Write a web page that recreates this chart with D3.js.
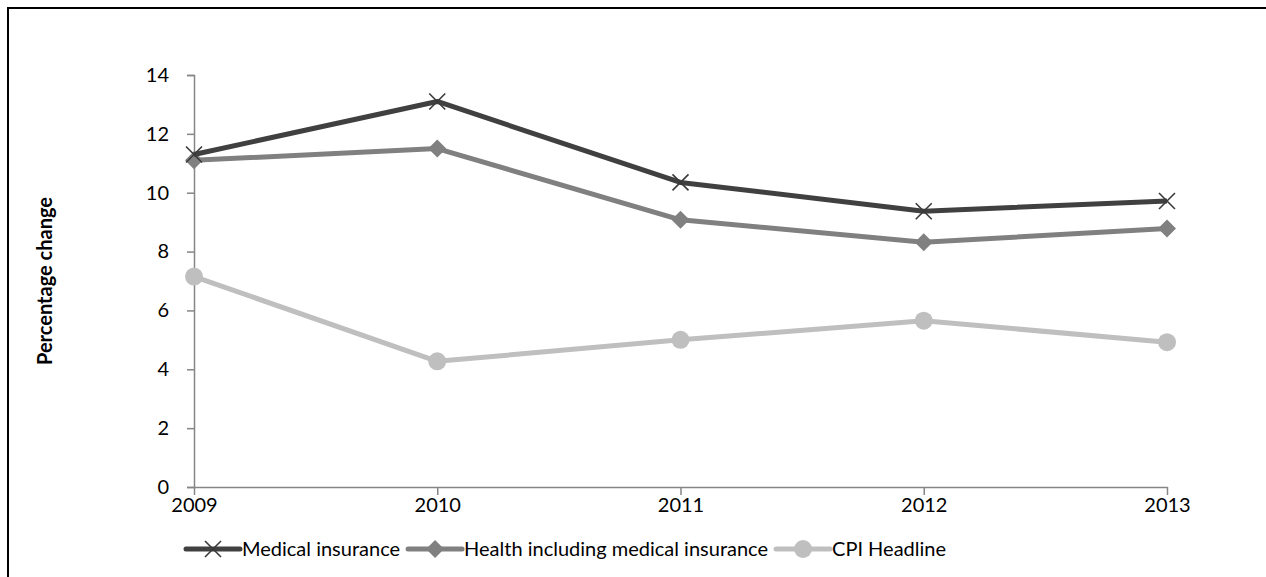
<!DOCTYPE html>
<html>
<head>
<meta charset="utf-8">
<script src="https://cdn.jsdelivr.net/npm/d3@7"></script>
<style>
  html, body { margin: 0; padding: 0; background: #fff; }
  svg { display: block; font-family: Lato, "Open Sans", sans-serif; }
</style>
</head>
<body>
<svg id="chart" width="1266" height="577"></svg>
<script>
// Annual percentage change, 2009–2013
const years = ["2009", "2010", "2011", "2012", "2013"];
const medicalInsurance = [11.3, 13.1, 10.35, 9.37, 9.72];
const healthInclMedical = [11.1, 11.5, 9.08, 8.32, 8.78];
const cpiHeadline = [7.15, 4.27, 5.0, 5.65, 4.92];
const yTicks = [0, 2, 4, 6, 8, 10, 12, 14];
const seriesNames = ["Medical insurance", "Health including medical insurance", "CPI Headline"];

const series = [
  { name: seriesNames[0], values: medicalInsurance, color: "#404040", marker: "cross" },
  { name: seriesNames[1], values: healthInclMedical, color: "#808080", marker: "diamond" },
  { name: seriesNames[2], values: cpiHeadline, color: "#bfbfbf", marker: "circle" }
];

const svg = d3.select("#chart");

// outer frame
svg.append("rect")
  .attr("x", 8).attr("y", 8)
  .attr("width", 1300).attr("height", 620)
  .attr("fill", "none").attr("stroke", "#000").attr("stroke-width", 2);

const plot = { left: 194, right: 1167, top: 75, bottom: 487 };

const x = d3.scalePoint().domain(years).range([plot.left, plot.right]);
const y = d3.scaleLinear().domain([0, 14]).range([plot.bottom, plot.top]);

const fontSize = 20;

// y axis
const yAxis = svg.append("g")
  .attr("transform", `translate(${plot.left},0)`)
  .call(d3.axisLeft(y).tickValues(yTicks).tickSize(7).tickPadding(18).tickFormat(d3.format("d")));
yAxis.select(".domain").attr("stroke", "#868686").attr("stroke-width", 1.5);
yAxis.selectAll(".tick line").attr("stroke", "#868686").attr("stroke-width", 1.5);
yAxis.selectAll(".tick text").attr("font-size", fontSize).attr("fill", "#000")
  .attr("font-family", "Lato, sans-serif");

// x axis
const xAxis = svg.append("g")
  .attr("transform", `translate(0,${plot.bottom})`)
  .call(d3.axisBottom(x).tickSize(8).tickPadding(3).tickSizeOuter(0));
xAxis.select(".domain").attr("stroke", "#868686").attr("stroke-width", 1.5);
xAxis.selectAll(".tick line").attr("stroke", "#868686").attr("stroke-width", 1.5);
xAxis.selectAll(".tick text").attr("font-size", fontSize).attr("fill", "#000")
  .attr("font-family", "Lato, sans-serif");

// y axis title
svg.append("text")
  .attr("transform", `translate(52,${(plot.top + plot.bottom) / 2}) rotate(-90)`)
  .attr("text-anchor", "middle")
  .attr("font-size", 20).attr("font-weight", "bold")
  .text("Percentage change");

function drawMarker(g, type, color, cx, cy) {
  if (type === "cross") {
    const s = 8;
    g.append("path")
      .attr("d", `M${cx - s},${cy - s}L${cx + s},${cy + s}M${cx - s},${cy + s}L${cx + s},${cy - s}`)
      .attr("stroke", "#3a3a3a").attr("stroke-width", 1.6).attr("fill", "none");
  } else if (type === "diamond") {
    const s = 9;
    g.append("path")
      .attr("d", `M${cx},${cy - s}L${cx + s},${cy}L${cx},${cy + s}L${cx - s},${cy}Z`)
      .attr("fill", color);
  } else {
    g.append("circle").attr("cx", cx).attr("cy", cy).attr("r", 9).attr("fill", color);
  }
}

const line = d3.line().x((d, i) => x(years[i])).y(d => y(d));

// draw back to front so the darker series sit on top
[...series].reverse().forEach(s => {
  const g = svg.append("g");
  g.append("path")
    .attr("d", line(s.values))
    .attr("fill", "none")
    .attr("stroke", s.color)
    .attr("stroke-width", 5)
    .attr("stroke-linejoin", "round");
  s.values.forEach((v, i) => drawMarker(g, s.marker, s.color, x(years[i]), y(v)));
});

// legend
const legendY = 549;
let lx = 186;
series.forEach(s => {
  const g = svg.append("g");
  g.append("line")
    .attr("x1", lx).attr("x2", lx + 54)
    .attr("y1", legendY).attr("y2", legendY)
    .attr("stroke", s.color).attr("stroke-width", 5).attr("stroke-linecap", "round");
  drawMarker(g, s.marker, s.color, lx + 27, legendY);
  const t = g.append("text")
    .attr("x", lx + 56).attr("y", legendY + 7)
    .attr("font-size", fontSize).attr("fill", "#000")
    .text(s.name);
  lx += 56 + t.node().getComputedTextLength() + 8;
});
</script>
</body>
</html>
